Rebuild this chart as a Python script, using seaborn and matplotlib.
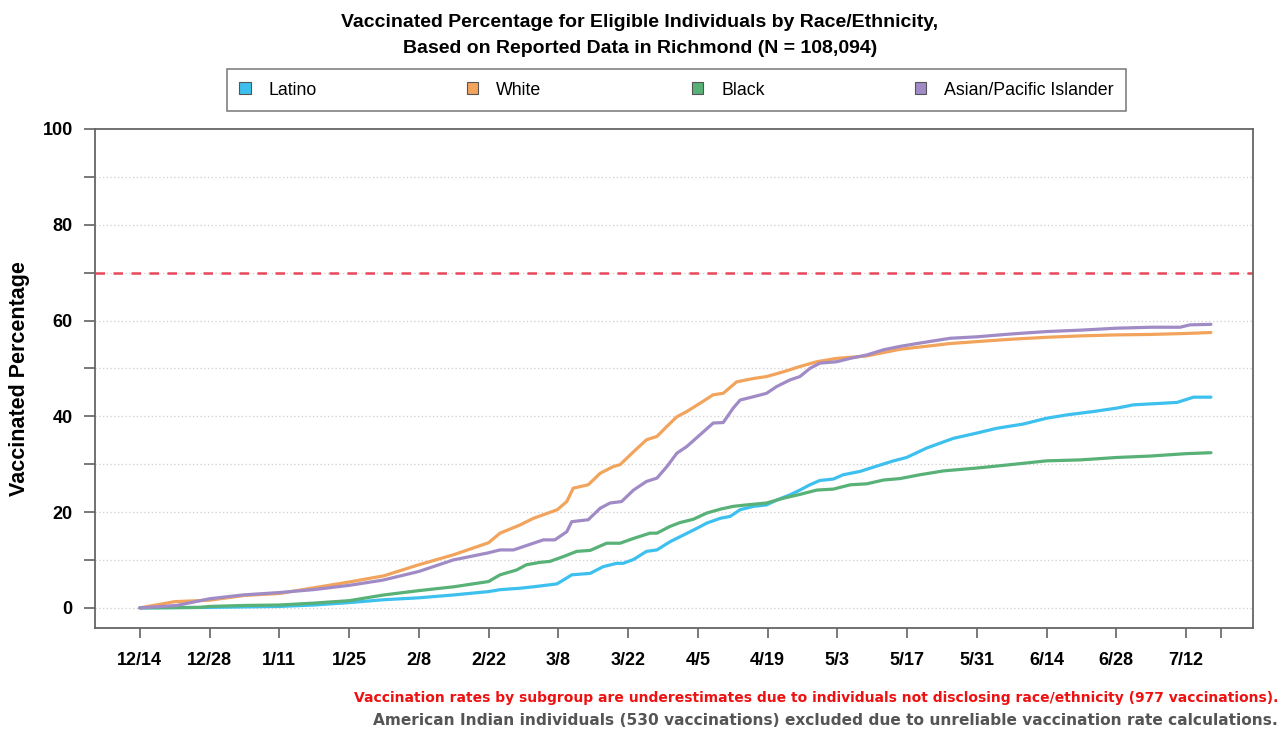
import numpy as np
import pandas as pd
import matplotlib
matplotlib.use("Agg")
import matplotlib.pyplot as plt
from matplotlib.patches import Patch
from matplotlib.ticker import MultipleLocator, FixedLocator
import seaborn as sns

# ---------------- data (x = days since 12/14/2020) ----------------
series_names = ["Latino", "White", "Black", "Asian/Pacific Islander"]
colors = ["#3DC0EE", "#F2A45C", "#58B176", "#A08BC6"]

latino_days = [0, 14, 28, 35, 42, 49, 56, 63, 70, 72.3, 76.3, 79, 83.7, 85, 86.7, 90.4, 93, 95.7, 97,
               99.1, 101.7, 103.8, 106.4, 109.1, 111.8, 113.8, 116.5, 118.5, 120.5, 123.2, 125.8, 127.8,
               130.5, 132.5, 134.5, 136.5, 139.2, 141.2, 144.6, 147.9, 151.3, 153.9, 158, 163.3, 168,
               172, 177.4, 182, 186.1, 191.4, 196, 199.5, 208.2, 211.5, 215]
latino_vals = [0, 0.1, 0.3, 0.6, 1.1, 1.7, 2.1, 2.7, 3.4, 3.8, 4.1, 4.4, 5.0, 5.8, 6.9, 7.2, 8.6, 9.3, 9.3,
               10.1, 11.8, 12.1, 13.8, 15.2, 16.6, 17.7, 18.7, 19.1, 20.5, 21.2, 21.5, 22.5,
               23.6, 24.6, 25.7, 26.6, 26.9, 27.8, 28.5, 29.6, 30.7, 31.4, 33.4, 35.4, 36.5,
               37.5, 38.4, 39.6, 40.3, 41.0, 41.7, 42.4, 42.9, 44.0, 44.0]

white_days = [0, 7, 14, 21, 28, 35, 42, 49, 56, 63, 70, 72.3, 76.3, 79, 83.8, 85.7, 87, 90, 92.4, 95,
              96.4, 99.1, 101.7, 103.8, 105.8, 107.8, 109.8, 112.4, 115.1, 117.1, 119.8, 123.2, 125.8,
              129.2, 132.5, 135.9, 139.9, 145.9, 152.6, 162.7, 168, 175, 182, 189, 196, 203, 210, 215]
white_vals = [0, 1.3, 1.6, 2.6, 3.0, 4.2, 5.4, 6.7, 9.0, 11.1, 13.6, 15.6, 17.3, 18.7, 20.5, 22.2, 25.0,
              25.7, 28.1, 29.5, 29.9, 32.6, 35.1, 35.8, 37.9, 39.9, 41.0, 42.7, 44.5, 44.8, 47.2, 47.9,
              48.3, 49.3, 50.4, 51.4, 52.1, 52.6, 54.0, 55.2, 55.6, 56.1, 56.5, 56.8, 57.0, 57.1, 57.3, 57.5]

black_days = [0, 12, 14, 21, 28, 35, 42, 49, 56, 63, 70, 72.3, 75.6, 77.6, 80.3, 82.3, 85, 87.7, 90.4,
              93.7, 96.4, 99.1, 102.4, 103.8, 106.4, 108.4, 111.1, 113.8, 116.5, 119.1, 121.8, 125.8,
              129.2, 132.5, 135.9, 139.2, 142.6, 145.9, 149.3, 152.6, 156.6, 161.3, 168, 174.7, 182,
              188.8, 196, 202.8, 210, 215]
black_vals = [0, 0.1, 0.3, 0.5, 0.6, 1.0, 1.5, 2.7, 3.6, 4.4, 5.5, 6.9, 7.9, 9.0, 9.5, 9.7, 10.7, 11.8,
              12.0, 13.5, 13.5, 14.5, 15.6, 15.6, 17.0, 17.8, 18.5, 19.8, 20.6, 21.2, 21.5, 21.9,
              22.9, 23.7, 24.6, 24.8, 25.7, 25.9, 26.7, 27.0, 27.8, 28.6, 29.2, 29.9, 30.7,
              30.9, 31.4, 31.7, 32.2, 32.4]

asian_days = [0, 7.4, 14, 20.7, 28, 34.8, 42, 48.8, 56, 62.9, 70, 72.3, 75, 79, 81, 83.3, 85.7, 86.7, 90,
              92.4, 94.4, 96.7, 99.1, 101.7, 103.8, 105.8, 107.8, 109.8, 112.4, 115.1, 117.1, 119.1,
              120.5, 123.2, 125.8, 127.8, 130.5, 132.5, 134.5, 136.5, 139.9, 142.6, 145.9, 149.3,
              152.6, 156.6, 162.7, 168, 175, 182, 189, 196, 203, 208.8, 210.8, 215]
asian_vals = [0, 0.5, 1.9, 2.7, 3.2, 3.8, 4.7, 5.8, 7.6, 10.0, 11.5, 12.1, 12.1, 13.5, 14.2, 14.2, 15.9,
              18.0, 18.4, 20.8, 21.9, 22.2, 24.6, 26.4, 27.1, 29.5, 32.3, 33.7, 36.1, 38.6, 38.7, 41.7,
              43.4, 44.1, 44.8, 46.2, 47.6, 48.3, 50.0, 51.1, 51.4, 52.1, 52.8, 53.9,
              54.6, 55.3, 56.3, 56.6, 57.2, 57.7, 58.0, 58.4, 58.6, 58.6, 59.1, 59.2]

tick_days = [0, 14, 28, 42, 56, 70, 84, 98, 112, 126, 140, 154, 168, 182, 196, 210, 217]
tick_labels = ["12/14", "12/28", "1/11", "1/25", "2/8", "2/22", "3/8", "3/22", "4/5", "4/19",
               "5/3", "5/17", "5/31", "6/14", "6/28", "7/12", ""]
target_pct = 70

title = ("Vaccinated Percentage for Eligible Individuals by Race/Ethnicity,\n"
         "Based on Reported Data in Richmond (N = 108,094)")
note1 = ("Vaccination rates by subgroup are underestimates due to individuals not disclosing "
         "race/ethnicity (977 vaccinations).")
note2 = ("American Indian individuals (530 vaccinations) excluded due to unreliable vaccination "
         "rate calculations.")

# ---------------- build long table ----------------
frames = []
for name, d, v in zip(series_names,
                      [latino_days, white_days, black_days, asian_days],
                      [latino_vals, white_vals, black_vals, asian_vals]):
    frames.append(pd.DataFrame({"day": d, "pct": v, "group": name}))
df = pd.concat(frames, ignore_index=True)

# ---------------- plot ----------------
sns.set_style("white")
plt.rcParams["font.family"] = ["Liberation Sans", "DejaVu Sans"]
plt.rcParams["text.color"] = "black"
plt.rcParams["xtick.color"] = "black"
plt.rcParams["ytick.color"] = "black"

fig = plt.figure(figsize=(12.87, 7.32), dpi=100)
ax = fig.add_axes([0.0738, 0.1421, 0.9000, 0.6817])

sns.lineplot(data=df, x="day", y="pct", hue="group", hue_order=series_names,
             palette=colors, linewidth=2.3, ax=ax, legend=False, sort=True,
             estimator=None)

ax.axhline(target_pct, color="#E8475C", linestyle=(0, (3.8, 3.4)), linewidth=1.8, zorder=1)

ax.set_xlim(-9, 223.5)
ax.set_ylim(-4.2, 100)
ax.yaxis.set_major_locator(MultipleLocator(20))
ax.yaxis.set_minor_locator(FixedLocator([10, 30, 50, 70, 90]))
ax.set_xticks(tick_days)
ax.set_xticklabels(tick_labels)

for lab in ax.get_xticklabels() + ax.get_yticklabels():
    lab.set_fontweight("bold")
    lab.set_fontsize(13)

ax.tick_params(axis="y", which="both", direction="out", length=8, width=1.1,
               color="#555555", pad=8, left=True, labelcolor="black")
ax.tick_params(axis="x", which="both", direction="out", length=7, width=1.1,
               color="#555555", pad=10, bottom=True, labelcolor="black")

ax.grid(False)
for yv in range(0, 100, 10):
    ax.axhline(yv, color="#cfcfcf", linestyle=(0, (1, 2)), linewidth=0.9, zorder=0)

for sp in ax.spines.values():
    sp.set_color("#666666")
    sp.set_linewidth(1.3)

ax.set_xlabel("")
ax.set_ylabel("Vaccinated Percentage", fontsize=15.5, fontweight="bold", color="black")
ax.yaxis.set_label_coords(-0.056, 0.5)

fig.suptitle(title, fontsize=14, fontweight="bold", y=0.981, x=0.497, va="top",
             linespacing=1.68, color="black")

handles = [Patch(facecolor=c, edgecolor="#555555", linewidth=0.8) for c in colors]
leg = fig.legend(handles, series_names, loc="center",
                 bbox_to_anchor=(0.5256, 0.877),
                 ncol=4, fontsize=12.8, frameon=True, fancybox=False,
                 handlelength=0.65, handleheight=0.65, handletextpad=1.0,
                 columnspacing=8.45, borderaxespad=0, borderpad=0.7)
leg.get_frame().set_edgecolor("#555555")
leg.get_frame().set_linewidth(1.1)

fig.text(0.993, 0.046, note1, ha="right", va="center", color="#EE1111",
         fontsize=9.97, fontweight="bold", family="DejaVu Sans")
fig.text(0.993, 0.016, note2, ha="right", va="center", color="#555555",
         fontsize=11.1, fontweight="bold", family="DejaVu Sans")

fig.savefig("out.png", dpi=100)
